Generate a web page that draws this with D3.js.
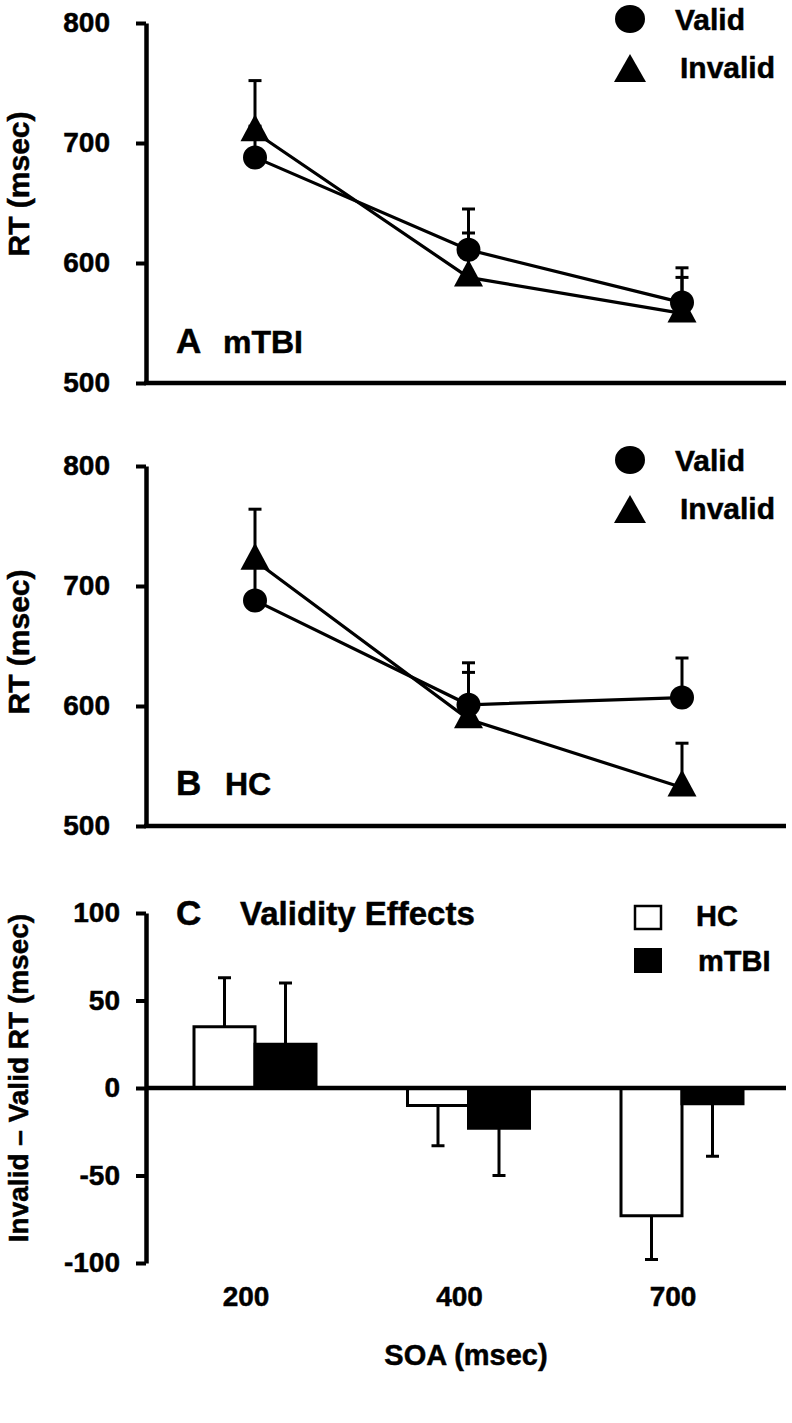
<!DOCTYPE html>
<html>
<head>
<meta charset="utf-8">
<script src="https://cdn.jsdelivr.net/npm/d3@7"></script>
<style>
  html, body { margin: 0; padding: 0; background: #fff; }
  svg text { font-family: "Liberation Sans", Arial, Helvetica, sans-serif; font-weight: bold; fill: #000; stroke: #000; stroke-width: 0.5px; }
</style>
</head>
<body>
<svg id="chart" width="792" height="1423"></svg>
<script>
// ---------- DATA ----------
const soa = ["200", "400", "700"];
const lineSeries = ["Valid", "Invalid"];
// Panel A: mTBI
const mtbiValid = [688, 611, 567];
const mtbiValidErr = [26, 34, 29];
const mtbiInvalid = [709, 588, 558];
const mtbiInvalidErr = [43, 37, 30];
// Panel B: HC
const hcValid = [688, 601, 607];
const hcValidErr = [30, 35, 33];
const hcInvalid = [721, 589, 532];
const hcInvalidErr = [43, 39, 37];
// Panel C: validity effects (Invalid - Valid)
const groups = ["HC", "mTBI"];
const effectHC = [35, -10, -73];
const effectHCErr = [28, 23, 25];
const effectMTBI = [25, -23, -9];
const effectMTBIErr = [35, 27, 30];
// Tick labels
const rtTicks = [500, 600, 700, 800];
const effTicks = [-100, -50, 0, 50, 100];

// ---------- LAYOUT ----------
const svg = d3.select("#chart");
const axisX = 146, rightX = 786;
const x = d3.scalePoint().domain(soa).range([255, 682]);

const triPath = (w, h) => `M0,${-h * 2 / 3}L${w / 2},${h / 3}L${-w / 2},${h / 3}Z`;
const fmt = d => String(d);

function styleAxis(g) {
  g.attr("font-size", null).attr("font-family", null);
  g.select(".domain").attr("stroke", "#000").attr("stroke-width", 4.5);
  g.selectAll(".tick line").attr("stroke", "#000").attr("stroke-width", 4);
  g.selectAll(".tick text").attr("font-size", 28).attr("fill", "#000");
}

function linePanel(cfg) {
  const y = d3.scaleLinear().domain([500, 800]).range([cfg.bottom, cfg.top]);
  const g = svg.append("g");

  // y axis
  const ax = g.append("g").attr("transform", `translate(${axisX},0)`)
    .call(d3.axisLeft(y).tickValues(rtTicks).tickSize(10).tickSizeOuter(0).tickPadding(26).tickFormat(fmt));
  styleAxis(ax);
  // x axis line
  g.append("line").attr("x1", axisX - 2).attr("x2", rightX)
    .attr("y1", y(500)).attr("y2", y(500)).attr("stroke", "#000").attr("stroke-width", 4.5);

  // y label
  g.append("text").attr("transform", `translate(29,${cfg.labelY}) rotate(-90)`)
    .attr("text-anchor", "middle").attr("font-size", 30).text("RT (msec)");

  const series = [
    { name: "Valid", vals: cfg.valid, err: cfg.validErr },
    { name: "Invalid", vals: cfg.invalid, err: cfg.invalidErr }
  ];
  const line = d3.line().x((d, i) => x(soa[i])).y(d => y(d));
  series.forEach(s => {
    g.append("path").attr("d", line(s.vals)).attr("fill", "none")
      .attr("stroke", "#000").attr("stroke-width", 3.2);
  });
  // error bars (upward)
  series.forEach(s => {
    s.vals.forEach((v, i) => {
      const cx = x(soa[i]);
      g.append("line").attr("x1", cx).attr("x2", cx).attr("y1", y(v)).attr("y2", y(v + s.err[i]))
        .attr("stroke", "#000").attr("stroke-width", 3);
      g.append("line").attr("x1", cx - 6.5).attr("x2", cx + 6.5)
        .attr("y1", y(v + s.err[i])).attr("y2", y(v + s.err[i]))
        .attr("stroke", "#000").attr("stroke-width", 3);
    });
  });
  // markers
  series.forEach(s => {
    s.vals.forEach((v, i) => {
      if (s.name === "Valid") {
        g.append("circle").attr("cx", x(soa[i])).attr("cy", y(v)).attr("r", 12).attr("fill", "#000");
      } else {
        g.append("path").attr("d", triPath(29, 27))
          .attr("transform", `translate(${x(soa[i])},${y(v)})`).attr("fill", "#000");
      }
    });
  });

  // legend
  const ly = cfg.legendY;
  g.append("ellipse").attr("cx", 630).attr("cy", ly).attr("rx", 15).attr("ry", 14).attr("fill", "#000");
  g.append("text").attr("x", 675).attr("y", ly + 11).attr("font-size", 30).text(lineSeries[0]);
  g.append("path").attr("d", `M630,${ly + 35}L646,${ly + 63}L614,${ly + 63}Z`).attr("fill", "#000");
  g.append("text").attr("x", 680).attr("y", ly + 59).attr("font-size", 30).text(lineSeries[1]);

  // panel title
  g.append("text").attr("x", 176).attr("y", cfg.titleY).attr("font-size", 35).text(cfg.letter);
  g.append("text").attr("x", cfg.nameX).attr("y", cfg.titleY).attr("font-size", 32).text(cfg.name);
}

linePanel({ top: 23, bottom: 383, valid: mtbiValid, validErr: mtbiValidErr,
  invalid: mtbiInvalid, invalidErr: mtbiInvalidErr, legendY: 19, labelY: 184,
  letter: "A", name: "mTBI", nameX: 223, titleY: 353 });
linePanel({ top: 466, bottom: 826, valid: hcValid, validErr: hcValidErr,
  invalid: hcInvalid, invalidErr: hcInvalidErr, legendY: 460, labelY: 642,
  letter: "B", name: "HC", nameX: 225, titleY: 795 });

// ---------- PANEL C ----------
(function () {
  const y = d3.scaleLinear().domain([-100, 100]).range([1263, 913]);
  const sub = d3.scaleBand().domain(groups).range([-61, 61]).padding(0);
  const g = svg.append("g");
  const ax = g.append("g").attr("transform", `translate(${axisX},0)`)
    .call(d3.axisLeft(y).tickValues(effTicks).tickSize(10).tickSizeOuter(0).tickPadding(16).tickFormat(fmt));
  styleAxis(ax);

  const data = [];
  soa.forEach((c, i) => {
    data.push({ c, grp: "HC", v: effectHC[i], e: effectHCErr[i] });
    data.push({ c, grp: "mTBI", v: effectMTBI[i], e: effectMTBIErr[i] });
  });
  // error bars
  data.forEach(d => {
    const cx = x(d.c) + sub(d.grp) + sub.bandwidth() / 2;
    const end = d.v >= 0 ? d.v + d.e : d.v - d.e;
    g.append("line").attr("x1", cx).attr("x2", cx).attr("y1", y(d.v)).attr("y2", y(end))
      .attr("stroke", "#000").attr("stroke-width", 3);
    g.append("line").attr("x1", cx - 6.5).attr("x2", cx + 6.5).attr("y1", y(end)).attr("y2", y(end))
      .attr("stroke", "#000").attr("stroke-width", 3);
  });
  // bars
  data.forEach(d => {
    const x0 = x(d.c) + sub(d.grp);
    g.append("rect").attr("x", x0).attr("width", sub.bandwidth())
      .attr("y", y(Math.max(0, d.v))).attr("height", Math.abs(y(d.v) - y(0)))
      .attr("fill", d.grp === "HC" ? "#fff" : "#000").attr("stroke", "#000").attr("stroke-width", 3);
  });
  // zero line
  g.append("line").attr("x1", axisX).attr("x2", rightX).attr("y1", y(0)).attr("y2", y(0))
    .attr("stroke", "#000").attr("stroke-width", 4.5);

  // category labels
  soa.forEach(c => {
    g.append("text").attr("x", x(c) - 9).attr("y", 1306).attr("text-anchor", "middle")
      .attr("font-size", 28).text(c);
  });
  // axis titles
  g.append("text").attr("x", 466).attr("y", 1365).attr("text-anchor", "middle")
    .attr("font-size", 29).text("SOA (msec)");
  g.append("text").attr("transform", `translate(28,1078) rotate(-90)`)
    .attr("text-anchor", "middle").attr("font-size", 28).text("Invalid \u2013 Valid RT (msec)");

  // title
  g.append("text").attr("x", 176).attr("y", 925).attr("font-size", 35).text("C");
  g.append("text").attr("x", 240).attr("y", 925).attr("font-size", 33).text("Validity Effects");

  // legend
  g.append("rect").attr("x", 635).attr("y", 906).attr("width", 26).attr("height", 23)
    .attr("fill", "#fff").attr("stroke", "#000").attr("stroke-width", 2.5);
  g.append("text").attr("x", 696).attr("y", 926).attr("font-size", 29).text(groups[0]);
  g.append("rect").attr("x", 634).attr("y", 948).attr("width", 28).attr("height", 25).attr("fill", "#000");
  g.append("text").attr("x", 698).attr("y", 971).attr("font-size", 29).text(groups[1]);
})();
</script>
</body>
</html>
